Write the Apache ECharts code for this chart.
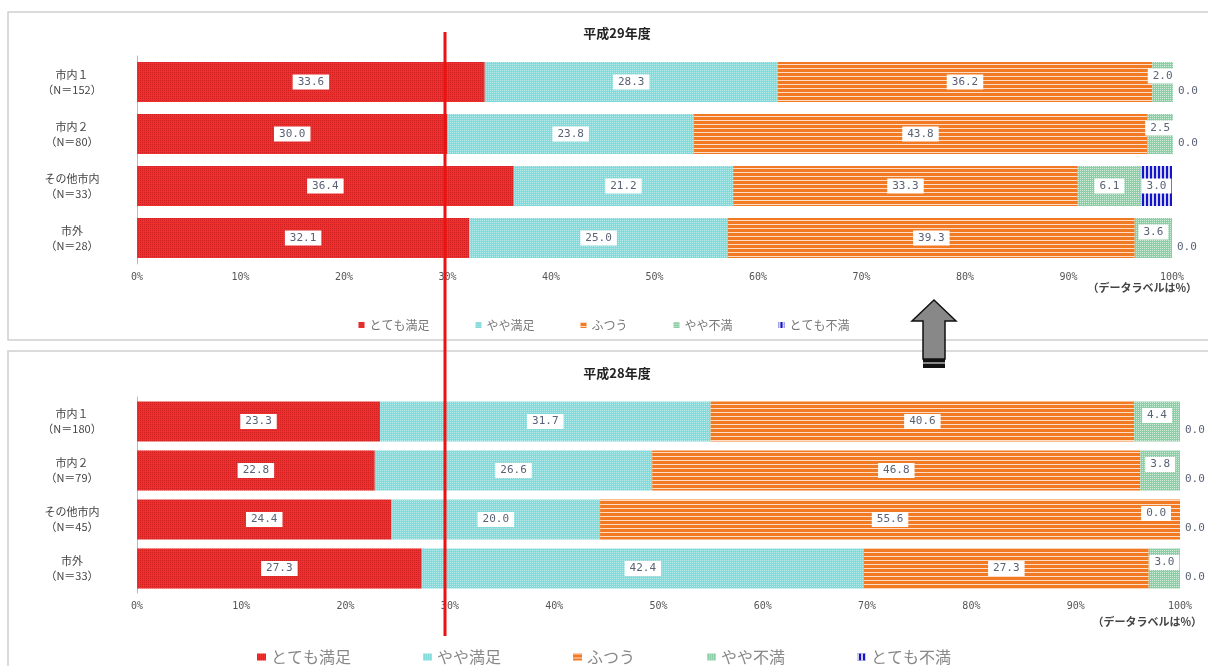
<!DOCTYPE html>
<html>
<head>
<meta charset="utf-8">
<script src="https://cdn.jsdelivr.net/npm/echarts@6/dist/echarts.min.js"></script>
<style>html,body{margin:0;padding:0;background:#fff;}#c{width:1208px;height:666px;}</style>
</head>
<body>
<div id="c"></div>
<script>
// ---- data ----
const seriesNames = ['とても満足', 'やや満足', 'ふつう', 'やや不満', 'とても不満'];
const categoriesH29 = ['市内１\n（N＝152）', '市内２\n（N＝80）', 'その他市内\n（N＝33）', '市外\n（N＝28）'];
const categoriesH28 = ['市内１\n（N＝180）', '市内２\n（N＝79）', 'その他市内\n（N＝45）', '市外\n（N＝33）'];
const h29_verySatisfied = [33.6, 30.0, 36.4, 32.1];
const h29_satisfied     = [28.3, 23.8, 21.2, 25.0];
const h29_neutral       = [36.2, 43.8, 33.3, 39.3];
const h29_dissatisfied  = [2.0, 2.5, 6.1, 3.6];
const h29_veryDissat    = [0.0, 0.0, 3.0, 0.0];
const h28_verySatisfied = [23.3, 22.8, 24.4, 27.3];
const h28_satisfied     = [31.7, 26.6, 20.0, 42.4];
const h28_neutral       = [40.6, 46.8, 55.6, 27.3];
const h28_dissatisfied  = [4.4, 3.8, 0.0, 3.0];
const h28_veryDissat    = [0.0, 0.0, 0.0, 0.0];
const xTicks = [0, 10, 20, 30, 40, 50, 60, 70, 80, 90, 100];
const titleH29 = '平成29年度';
const titleH28 = '平成28年度';
const noteText = '（データラベルは%）';

// ---- styles ----
const colors = ['#ee3030', '#82dada', '#f27a22', '#8ccfa6', '#1414c8'];
const decals = [
  {symbol: 'rect', symbolSize: 1, color: 'rgba(150,0,0,0.35)', dashArrayX: [1, 1], dashArrayY: [1, 1]},
  {symbol: 'rect', symbolSize: 1, color: 'rgba(255,255,255,0.45)', dashArrayX: [1, 1], dashArrayY: [1, 1]},
  {symbol: 'rect', symbolSize: 1, color: 'rgba(255,255,255,0.75)', dashArrayX: [1, 0], dashArrayY: [1, 3]},
  {symbol: 'rect', symbolSize: 1, color: 'rgba(255,255,255,0.6)', dashArrayX: [1, 1], dashArrayY: [1, 1]},
  {symbol: 'rect', symbolSize: 1, color: 'rgba(255,255,255,0.8)', dashArrayX: [2, 2], dashArrayY: [1, 0]}
];
const jp = '"Noto Sans CJK JP", sans-serif';
const labelBase = {
  show: true, formatter: p => p.value.toFixed(1),
  backgroundColor: '#fff', padding: [2, 5], color: '#5a6275',
  fontFamily: '"DejaVu Sans Mono", monospace', fontSize: 11
};

function buildData(values, sIdx) {
  return values.map(v => {
    const item = {value: v};
    if (sIdx === 3 && v < 5) {
      item.label = {position: v === 0 ? 'insideRight' : 'inside', offset: [v === 0 ? -4 : 0, -6]};
    } else if (sIdx === 4 && v === 0) {
      item.label = {position: 'right', offset: [-2, 9], distance: 2};
    }
    return item;
  });
}

function buildSeries(sets, gridIdx) {
  return sets.map((vals, i) => ({
    name: seriesNames[i], type: 'bar', stack: 'g' + gridIdx,
    xAxisIndex: gridIdx, yAxisIndex: gridIdx,
    barWidth: 40, clip: false,
    itemStyle: {color: colors[i], decal: decals[i]},
    label: Object.assign({}, labelBase, {position: 'inside'}),
    data: buildData(vals, i)
  }));
}

const xAxisBase = {
  type: 'value', min: 0, max: 100, interval: 10,
  axisLabel: {formatter: v => v + '%', fontSize: 10, color: '#555', fontFamily: '"DejaVu Sans Mono", monospace', margin: 8},
  axisLine: {show: false}, axisTick: {show: false}, splitLine: {show: false}
};
const yAxisBase = {
  type: 'category', inverse: true,
  axisLine: {show: true, lineStyle: {color: '#bbb'}}, axisTick: {show: false},
  axisLabel: {fontSize: 11, color: '#444', fontFamily: jp, align: 'center', margin: 65, lineHeight: 15}
};

const chart = echarts.init(document.getElementById('c'));
chart.setOption({
  animation: false,
  textStyle: {fontFamily: jp},
  title: [
    {text: titleH29, left: 612, top: 22, textAlign: 'center', textStyle: {fontSize: 13, fontWeight: 'bold', color: '#222', fontFamily: jp}},
    {text: titleH28, left: 612, top: 362, textAlign: 'center', textStyle: {fontSize: 13, fontWeight: 'bold', color: '#222', fontFamily: jp}}
  ],
  legend: [
    {data: seriesNames, left: 'center', top: 314, icon: 'rect', itemWidth: 6, itemHeight: 6, itemGap: 46,
     textStyle: {fontSize: 12, color: '#777', fontFamily: jp}},
    {data: seriesNames, left: 'center', top: 644, icon: 'rect', itemWidth: 9, itemHeight: 7, itemGap: 72,
     textStyle: {fontSize: 16, color: '#888', fontFamily: jp}}
  ],
  grid: [
    {left: 137, right: 36, top: 56, height: 208},
    {left: 137, right: 28, top: 397, height: 196}
  ],
  xAxis: [Object.assign({gridIndex: 0}, xAxisBase), Object.assign({gridIndex: 1}, xAxisBase)],
  yAxis: [Object.assign({gridIndex: 0, data: categoriesH29}, yAxisBase), Object.assign({gridIndex: 1, data: categoriesH28}, yAxisBase)],
  series: buildSeries([h29_verySatisfied, h29_satisfied, h29_neutral, h29_dissatisfied, h29_veryDissat], 0)
    .concat(buildSeries([h28_verySatisfied, h28_satisfied, h28_neutral, h28_dissatisfied, h28_veryDissat], 1)),
  graphic: [
    {type: 'rect', shape: {x: 8, y: 12, width: 1215, height: 328}, style: {fill: 'none', stroke: '#d0d0d0', lineWidth: 1.5}, z: -1},
    {type: 'rect', shape: {x: 8, y: 351, width: 1215, height: 330}, style: {fill: 'none', stroke: '#d0d0d0', lineWidth: 1.5}, z: -1},
    {type: 'text', x: 1197, y: 282, style: {text: noteText, align: 'right', fill: '#444', font: 'bold 11px "Noto Sans CJK JP"'}},
    {type: 'text', x: 1202, y: 616, style: {text: noteText, align: 'right', fill: '#444', font: 'bold 11px "Noto Sans CJK JP"'}},
    {type: 'line', shape: {x1: 445, y1: 32, x2: 445, y2: 636}, style: {stroke: '#ee1111', lineWidth: 3}, z: 100},
    {type: 'polygon', shape: {points: [[934, 300], [956, 321], [945, 321], [945, 359], [923, 359], [923, 321], [912, 321]]},
     style: {fill: '#888', stroke: '#111', lineWidth: 1.5}, z: 100},
    {type: 'rect', shape: {x: 923, y: 359, width: 22, height: 3}, style: {fill: '#111'}, z: 100},
    {type: 'rect', shape: {x: 923, y: 362, width: 22, height: 2}, style: {fill: '#888'}, z: 100},
    {type: 'rect', shape: {x: 923, y: 364, width: 22, height: 4}, style: {fill: '#111'}, z: 100}
  ]
});
</script>
</body>
</html>
